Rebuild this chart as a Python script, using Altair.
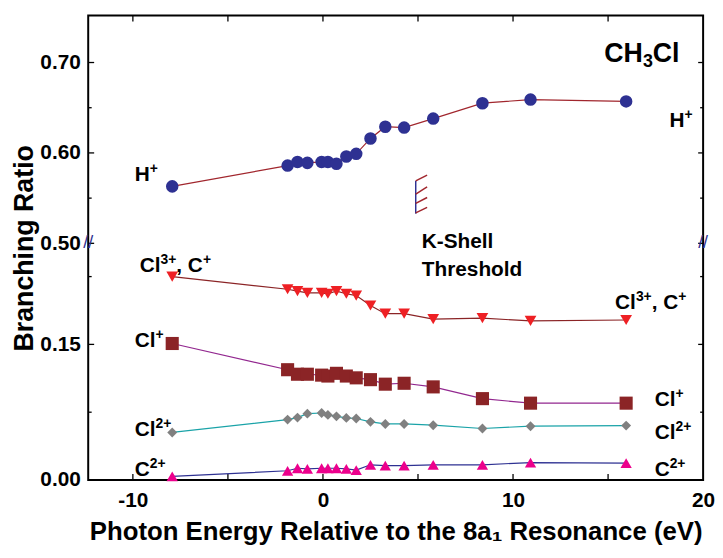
import altair as alt
import pandas as pd

# ---------------- data ----------------
energy = [-7.93, -1.86, -1.34, -0.82, -0.07, 0.26, 0.71, 1.23, 1.75, 2.5, 3.28, 4.27, 5.8, 8.39, 10.92, 15.95]
h_plus = [0.563, 0.586, 0.590, 0.589, 0.590, 0.590, 0.588, 0.596, 0.599, 0.616, 0.629, 0.628, 0.638, 0.655, 0.659, 0.657]
cl3_c1 = [0.225, 0.211, 0.209, 0.207, 0.207, 0.206, 0.209, 0.206, 0.204, 0.193, 0.184, 0.184, 0.178, 0.179, 0.176, 0.177]
cl1 = [0.151, 0.122, 0.117, 0.117, 0.116, 0.115, 0.118, 0.115, 0.113, 0.111, 0.106, 0.107, 0.103, 0.090, 0.085, 0.085]
cl2 = [0.0526, 0.0668, 0.069, 0.0734, 0.0741, 0.072, 0.0704, 0.0687, 0.068, 0.0643, 0.062, 0.062, 0.0606, 0.057, 0.0595, 0.0602]
c2 = [0.004, 0.0102, 0.013, 0.0124, 0.013, 0.013, 0.013, 0.0124, 0.011, 0.0168, 0.016, 0.016, 0.0168, 0.0168, 0.0193, 0.0186]

series_names = ["H+", "Cl3+,C+", "Cl+", "Cl2+", "C2+"]
series_values = [h_plus, cl3_c1, cl1, cl2, c2]
marker_colors = ["#2E3192", "#EE2024", "#8B2426", "#808080", "#EC008C"]
line_colors = ["#A1262D", "#8B2426", "#92278F", "#1AA3A8", "#2E3192"]
marker_shapes = ["circle", "triangle-down", "square", "diamond", "triangle-up"]
marker_sizes = [160, 140, 175, 100, 130]

# broken axis: upper panel value 0.50 sits where 0.2618 would be on the lower scale
BREAK_AT = 0.2618
def to_plot(v):
    return v if v < 0.3 else v - 0.5 + BREAK_AT

y_major = [0.0, 0.15, 0.50, 0.60, 0.70]
y_minor = [0.075, 0.225, 0.55, 0.65]
x_ticks = [-10, -5, 0, 5, 10, 15]
x_labels = [-10, 0, 10, 20]

# series labels: pieces (text, 1 = superscript), left anchor x, baseline y (plot units)
label_parts = [
    [("H", 0), ("+", 1)],
    [("H", 0), ("+", 1)],
    [("Cl", 0), ("3+", 1), (", C", 0), ("+", 1)],
    [("Cl", 0), ("+", 1)],
    [("Cl", 0), ("2+", 1)],
    [("C", 0), ("2+", 1)],
    [("Cl", 0), ("3+", 1), (", C", 0), ("+", 1)],
    [("Cl", 0), ("+", 1)],
    [("Cl", 0), ("2+", 1)],
    [("C", 0), ("2+", 1)],
    [("K-Shell", 0)],
    [("Threshold", 0)],
]
label_x = [-9.9, 18.23, -9.64, -9.9, -9.9, -9.9, 15.37, 17.45, 17.45, 17.45, 5.2, 5.2]
label_y = [0.3308, 0.3905, 0.2306, 0.1473, 0.0487, 0.0044, 0.1889, 0.0816, 0.0455, 0.0044, 0.2568, 0.2262]

# molecule name: pieces (text, -1 = subscript)
mol_parts = [("CH", 0), ("3", -1), ("Cl", 0)]
mol_x, mol_y = 14.8, 0.4622

# K-shell threshold marker (plot units)
thr_x = [4.88, 4.88, 4.88, 4.88, 4.88]
thr_x2 = [4.88, 5.48, 5.48, 5.48, 5.48]
thr_y = [0.2946, 0.3308, 0.3162, 0.3059, 0.2954]
thr_y2 = [0.3308, 0.3373, 0.3242, 0.3125, 0.3015]
thr_col = ["#2E3192", "#A1262D", "#A1262D", "#A1262D", "#A1262D"]

XMIN, XMAX = -12.35, 20.0
YMIN, YMAX = 0.0, 0.5137
W, H = 621, 469
PXX = W / (XMAX - XMIN)
PXY = H / (YMAX - YMIN)
FONT = "Liberation Sans"
LAB_FS, SUP_FS = 21, 14
MOL_FS, SUB_FS = 27, 18

# Arial/Liberation Sans Bold advance widths (em)
ADV = {"H": .722, "C": .722, "l": .278, ",": .278, " ": .278, "+": .584, "2": .556, "3": .556,
       "K": .722, "-": .333, "S": .667, "h": .611, "e": .556, "T": .611, "r": .389, "s": .556,
       "o": .611, "d": .611}
def text_w(s, fs):
    return sum(ADV.get(ch, .6) for ch in s) * fs

xsc = alt.Scale(domain=[XMIN, XMAX], nice=False, zero=False)
ysc = alt.Scale(domain=[YMIN, YMAX], nice=False, zero=False)

X_AXIS = alt.Axis(
    values=x_labels, title="Photon Energy Relative to the 8a₁ Resonance (eV)",
    labelExpr="datum.value < 0 ? '-' + abs(datum.value) : '' + datum.value",
    ticks=False, tickSize=0, domain=False, grid=False, labelFlush=False,
    labelPadding=10, labelFontSize=21, labelFontWeight="bold", labelFont=FONT,
    labelColor="black", titleFontSize=26, titleFontWeight="bold", titleFont=FONT,
    titleColor="black", titlePadding=8)
Y_AXIS = alt.Axis(
    values=[to_plot(v) for v in y_major],
    labelExpr="datum.value < 0.2 ? format(datum.value, '.2f') : format(datum.value + 0.2382, '.2f')",
    title="Branching Ratio", ticks=False, tickSize=0, domain=False, grid=False,
    labelPadding=8, labelFontSize=21, labelFontWeight="bold", labelFont=FONT,
    labelColor="black", titleFontSize=27, titleFontWeight="bold", titleFont=FONT,
    titleColor="black", titlePadding=1)

def XE(field="x"):
    return alt.X(f"{field}:Q", scale=xsc, axis=X_AXIS)

def YE(field="p"):
    return alt.Y(f"{field}:Q", scale=ysc, axis=Y_AXIS)

rows = []
for name, vals in zip(series_names, series_values):
    for e, v in zip(energy, vals):
        rows.append({"series": name, "x": e, "v": v, "p": to_plot(v)})
df = pd.DataFrame(rows)

layers = []

# inward ticks
ymaj_df = pd.DataFrame({"p": [to_plot(v) for v in y_major]})
ymin_df = pd.DataFrame({"p": [to_plot(v) for v in y_minor]})
xt_df = pd.DataFrame({"x": x_ticks})
for d, left_len, right_len in [(ymaj_df, 6, 5), (ymin_df, 3.5, 3)]:
    layers.append(alt.Chart(d).mark_rule(color="black", strokeWidth=1.3).encode(
        y=YE(), x=alt.value(0), x2=alt.value(left_len)))
    layers.append(alt.Chart(d).mark_rule(color="black", strokeWidth=1.3).encode(
        y=YE(), x=alt.value(W), x2=alt.value(W - right_len)))
layers.append(alt.Chart(xt_df).mark_rule(color="black", strokeWidth=1.3).encode(
    x=XE(), y=alt.value(H), y2=alt.value(H - 6)))
layers.append(alt.Chart(xt_df).mark_rule(color="black", strokeWidth=1.3).encode(
    x=XE(), y=alt.value(0), y2=alt.value(6)))

# series
for name, mc, lc, sh, sz in zip(series_names, marker_colors, line_colors, marker_shapes, marker_sizes):
    sub = df[df["series"] == name]
    layers.append(alt.Chart(sub).mark_line(color=lc, strokeWidth=1.2).encode(x=XE(), y=YE()))
    layers.append(alt.Chart(sub).mark_point(shape=sh, filled=True, color=mc, opacity=1, size=sz).encode(
        x=XE(), y=YE()))

# threshold marker
thr_df = pd.DataFrame({"x": thr_x, "x2": thr_x2, "p": thr_y, "p2": thr_y2, "c": thr_col})
layers.append(alt.Chart(thr_df).mark_rule(strokeWidth=1.5).encode(
    x=XE(), x2="x2:Q", y=YE(), y2="p2:Q", color=alt.Color("c:N", scale=None)))

# label pieces laid out from their anchors
base_rows, sup_rows = [], []
for parts, ax, ay in zip(label_parts, label_x, label_y):
    off = 0.0
    for txt, kind in parts:
        if kind == 1:
            sup_rows.append({"t": txt, "x": ax + off / PXX, "p": ay + 8.0 / PXY})
            off += text_w(txt, SUP_FS)
        else:
            base_rows.append({"t": txt, "x": ax + off / PXX, "p": ay})
            off += text_w(txt, LAB_FS)
mol_rows, molsub_rows = [], []
off = 0.0
for txt, kind in mol_parts:
    if kind == -1:
        molsub_rows.append({"t": txt, "x": mol_x + off / PXX, "p": mol_y - 5.0 / PXY})
        off += text_w(txt, SUB_FS)
    else:
        mol_rows.append({"t": txt, "x": mol_x + off / PXX, "p": mol_y})
        off += text_w(txt, MOL_FS)

for rows_, fs in [(base_rows, LAB_FS), (sup_rows, SUP_FS), (mol_rows, MOL_FS), (molsub_rows, SUB_FS)]:
    layers.append(alt.Chart(pd.DataFrame(rows_)).mark_text(
        align="left", baseline="alphabetic", font=FONT, fontWeight="bold",
        fontSize=fs, color="black").encode(x=XE(), y=YE(), text="t:N"))

# axis break marks
brk_df = pd.DataFrame({"t": ["//", "//"], "x": [XMIN, XMAX], "p": [BREAK_AT, BREAK_AT]})
layers.append(alt.Chart(brk_df).mark_text(align="center", baseline="middle", font=FONT,
                                           fontSize=18, color="#2E3192").encode(
    x=XE(), y=YE(), text="t:N"))

chart = alt.layer(*layers).properties(
    width=W, height=H,
    background="white",
    autosize=alt.AutoSizeParams(type="none"),
    padding={"left": 81, "top": 5, "right": 12, "bottom": 66},
).configure_view(stroke="black", strokeWidth=2)

chart.save("out.html", embed_options={"renderer": "svg", "actions": False})
